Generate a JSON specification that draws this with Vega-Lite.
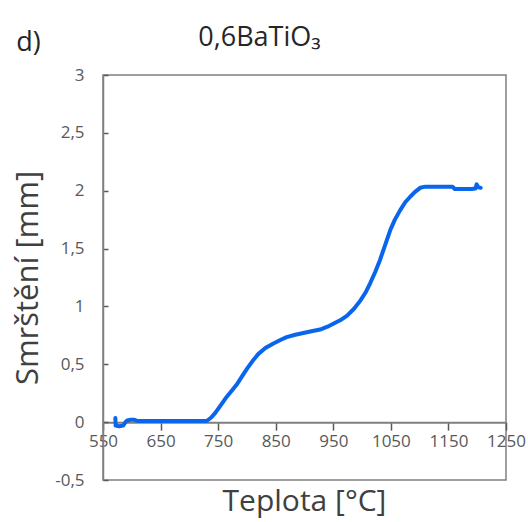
{
  "$schema": "https://vega.github.io/schema/vega-lite/v6.json",
  "width": 403,
  "height": 405,
  "autosize": {"type": "none"},
  "padding": {"left": 103, "top": 75, "right": 22, "bottom": 42},
  "background": "white",
  "config": {
    "font": "Open Sans",
    "view": {"stroke": "#7f7f7f", "strokeWidth": 1.5},
    "axis": {"grid": false, "labelColor": "#595959", "labelFont": "Open Sans", "titleFont": "Open Sans", "titleColor": "#404040", "titleFontWeight": "normal", "domainColor": "#7f7f7f", "tickColor": "#595959"}
  },
  "title": {
    "text": "0,6BaTiO₃",
    "anchor": "middle",
    "frame": "group",
    "dx": -45,
    "offset": -24,
    "fontSize": 27,
    "fontWeight": "normal",
    "color": "#262626",
    "font": "Open Sans"
  },
  "data": {
    "values": [
      {"t": 571.5, "s": 0.035},
      {"t": 572, "s": -0.03},
      {"t": 578, "s": -0.035},
      {"t": 585, "s": -0.03},
      {"t": 589, "s": 0.0},
      {"t": 592, "s": 0.015},
      {"t": 598, "s": 0.02},
      {"t": 605, "s": 0.02},
      {"t": 610, "s": 0.01},
      {"t": 650, "s": 0.01},
      {"t": 700, "s": 0.01},
      {"t": 730, "s": 0.01},
      {"t": 738, "s": 0.04},
      {"t": 745, "s": 0.08},
      {"t": 755, "s": 0.15},
      {"t": 765, "s": 0.22},
      {"t": 775, "s": 0.28},
      {"t": 783, "s": 0.33},
      {"t": 792, "s": 0.4},
      {"t": 800, "s": 0.46},
      {"t": 810, "s": 0.53},
      {"t": 820, "s": 0.59},
      {"t": 832, "s": 0.64},
      {"t": 846, "s": 0.68},
      {"t": 858, "s": 0.71},
      {"t": 869, "s": 0.735},
      {"t": 884, "s": 0.755},
      {"t": 898, "s": 0.77},
      {"t": 912, "s": 0.785},
      {"t": 927, "s": 0.8},
      {"t": 940, "s": 0.825},
      {"t": 950, "s": 0.85},
      {"t": 962, "s": 0.88},
      {"t": 974, "s": 0.92},
      {"t": 986, "s": 0.98},
      {"t": 997, "s": 1.05},
      {"t": 1006, "s": 1.12},
      {"t": 1014, "s": 1.2},
      {"t": 1023, "s": 1.3},
      {"t": 1031, "s": 1.4},
      {"t": 1040, "s": 1.53},
      {"t": 1049, "s": 1.66},
      {"t": 1057, "s": 1.75},
      {"t": 1066, "s": 1.83},
      {"t": 1075, "s": 1.9},
      {"t": 1084, "s": 1.95},
      {"t": 1092, "s": 1.99},
      {"t": 1101, "s": 2.025},
      {"t": 1110, "s": 2.035},
      {"t": 1124, "s": 2.035},
      {"t": 1140, "s": 2.035},
      {"t": 1157, "s": 2.035},
      {"t": 1161, "s": 2.015},
      {"t": 1175, "s": 2.015},
      {"t": 1190, "s": 2.015},
      {"t": 1197, "s": 2.02},
      {"t": 1199, "s": 2.055},
      {"t": 1202, "s": 2.03},
      {"t": 1206, "s": 2.025}
    ]
  },
  "layer": [
    {
      "mark": {"type": "line", "color": "#0865ec", "strokeWidth": 4, "strokeCap": "round", "strokeJoin": "round", "clip": true},
      "encoding": {
        "x": {
          "field": "t", "type": "quantitative",
          "scale": {"domain": [550, 1250], "nice": false, "zero": false},
          "axis": {
            "values": [550, 650, 750, 850, 950, 1050, 1150, 1250],
            "format": "d",
            "offset": {"expr": "scale('y', 0) - height"},
            "title": "Teplota [°C]",
            "titleFontSize": 30,
            "titleBaseline": "alphabetic",
            "titleY": 88,
            "titlePadding": 0,
            "titleX": 201,
            "labelFontSize": 17,
            "labelPadding": 3,
            "tickSize": 8,
            "tickWidth": 1.5,
            "domainWidth": 2,
            "labelFlush": false,
            "labelOverlap": false
          }
        },
        "y": {
          "field": "s", "type": "quantitative",
          "scale": {"domain": [-0.5, 3], "nice": false, "zero": false},
          "axis": {
            "values": [-0.5, 0, 0.5, 1, 1.5, 2, 2.5, 3],
            "labelExpr": "replace(toString(datum.value), '.', ',')",
            "title": "Smrštění [mm]",
            "titleFontSize": 31,
            "titlePadding": 10,
            "labelFontSize": 17,
            "labelPadding": 24,
            "tickSize": -5,
            "tickWidth": 1.5,
            "domainWidth": 1.5,
            "labelFlush": false,
            "labelOverlap": false
          }
        }
      }
    },
    {
      "mark": {"type": "point", "opacity": 0},
      "encoding": {
        "x": {
          "field": "t", "type": "quantitative",
          "axis": {
            "orient": "top",
            "domain": false, "ticks": false, "labels": false,
            "title": "d)",
            "titleFontSize": 27,
            "titleX": -75,
            "titleY": -33,
            "titleAngle": 0,
            "titleAlign": "center",
            "titleBaseline": "middle",
            "titleColor": "#262626"
          }
        },
        "y": {"field": "s", "type": "quantitative"}
      }
    }
  ],
  "resolve": {"axis": {"x": "independent"}}
}
